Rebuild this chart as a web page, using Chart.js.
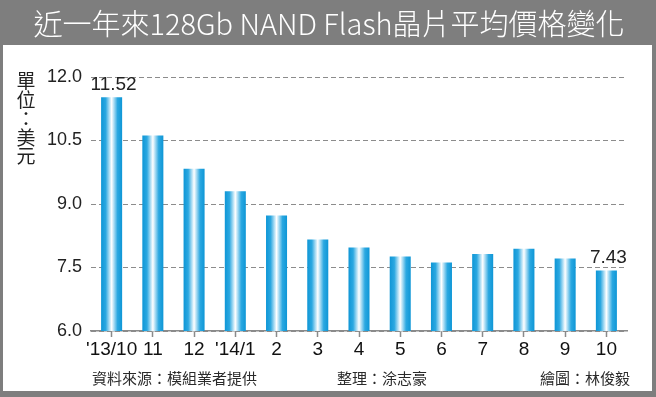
<!DOCTYPE html>
<html>
<head>
<meta charset="utf-8">
<script src="https://cdn.jsdelivr.net/npm/chart.js@4"></script>
<style>
  html, body { margin: 0; padding: 0; background: #fff; }
  #wrap { width: 656px; height: 397px; }
</style>
</head>
<body>
<div id="wrap"><canvas id="priceChart" width="656" height="397"></canvas></div>
<script>
// data
var months = ["'13/10", '11', '12', "'14/1", '2', '3', '4', '5', '6', '7', '8', '9', '10'];
var prices = [11.52, 10.62, 9.83, 9.30, 8.73, 8.16, 7.97, 7.76, 7.62, 7.82, 7.94, 7.71, 7.43];
var priceLabels = ['11.52', '', '', '', '', '', '', '', '', '', '', '', '7.43'];
var yTicks = [6.0, 7.5, 9.0, 10.5, 12.0];

var titleText = '近一年來128Gb NAND Flash晶片平均價格變化';
var unitChars = ['單', '位', '：', '美', '元'];
var footerTexts = ['資料來源：模組業者提供', '整理：涂志豪', '繪圖：林俊毅'];

var BAR_PCT = 0.51;
var CJK = '"Noto Sans CJK TC", "Noto Sans CJK SC", sans-serif';
var NUM = '"Liberation Sans", Arial, sans-serif';

// each bar gets its own horizontal blue-white-blue gradient
function barFill(ctx) {
  var chart = ctx.chart;
  var xs = chart.scales && chart.scales.x;
  if (ctx.dataIndex === undefined || !xs || !xs.width) return '#1a9fdc';
  var cx = xs.getPixelForValue(ctx.dataIndex);
  var half = xs.width / months.length * BAR_PCT / 2;
  var g = chart.ctx.createLinearGradient(cx - half, 0, cx + half, 0);
  g.addColorStop(0, '#0e96d6');
  g.addColorStop(0.22, '#2ba8e1');
  g.addColorStop(0.5, '#ffffff');
  g.addColorStop(0.78, '#2ba8e1');
  g.addColorStop(1, '#0e96d6');
  return g;
}

// frame, title bar, unit label, footer, value labels
var decor = {
  id: 'decor',
  beforeDraw: function (chart) {
    var c = chart.ctx;
    c.save();
    c.fillStyle = '#ffffff';
    c.fillRect(0, 0, 656, 397);
    c.fillStyle = '#7e7e7e';
    c.fillRect(0, 0, 656, 45);
    c.fillRect(0, 0, 3, 397);
    c.fillRect(652, 0, 4, 397);
    c.fillRect(0, 391, 656, 6);
    c.fillStyle = '#ffffff';
    c.font = '300 29px ' + CJK;
    c.textAlign = 'center';
    c.textBaseline = 'middle';
    c.fillText(titleText, 329, 24);
    c.restore();
  },
  afterDraw: function (chart) {
    var c = chart.ctx;
    c.save();
    c.fillStyle = '#222';
    c.font = '19px ' + CJK;
    c.textAlign = 'center';
    c.textBaseline = 'middle';
    unitChars.forEach(function (ch, i) {
      c.fillText(ch, 26, 81 + i * 18.8);
    });

    c.font = '15px ' + CJK;
    c.textAlign = 'left';
    c.fillStyle = '#2a2a2a';
    var fx = [92, 337, 540];
    footerTexts.forEach(function (t, i) {
      c.fillText(t, fx[i], 378);
    });

    var meta = chart.getDatasetMeta(0);
    c.font = '19px ' + NUM;
    c.fillStyle = '#222';
    c.textAlign = 'center';
    c.textBaseline = 'bottom';
    meta.data.forEach(function (bar, i) {
      if (priceLabels[i]) c.fillText(priceLabels[i], bar.x + 2, bar.y - 3);
    });
    c.restore();
  }
};

var priceChart = new Chart(document.getElementById('priceChart'), {
  type: 'bar',
  data: {
    labels: months,
    datasets: [{
      data: prices,
      backgroundColor: barFill,
      borderWidth: 0,
      barPercentage: BAR_PCT,
      categoryPercentage: 1
    }]
  },
  options: {
    responsive: false,
    animation: false,
    layout: { padding: { top: 77, right: 29, left: 0, bottom: 0 } },
    plugins: {
      legend: { display: false },
      tooltip: { enabled: false },
      title: { display: false }
    },
    scales: {
      x: {
        afterFit: function (s) { s.height = 66; },
        grid: {
          display: true,
          drawOnChartArea: false,
          drawTicks: true,
          offset: false,
          tickLength: 6,
          tickColor: '#8a8a8a',
          tickWidth: 1.5
        },
        border: { display: true, color: '#8a8a8a', width: 1.5 },
        ticks: {
          color: '#111',
          font: { family: NUM, size: 19 },
          padding: 1,
          maxRotation: 0,
          autoSkip: false
        }
      },
      y: {
        min: 6,
        max: 12,
        afterFit: function (s) { s.width = 91; },
        afterBuildTicks: function (s) {
          s.ticks = yTicks.map(function (v) { return { value: v }; });
        },
        grid: { color: '#8c8c8c', lineWidth: 1, drawTicks: false },
        border: { display: false, dash: [5, 3] },
        ticks: {
          color: '#222',
          font: { family: NUM, size: 18 },
          padding: 9,
          callback: function (v) { return Number(v).toFixed(1); }
        }
      }
    }
  },
  plugins: [decor]
});
</script>
</body>
</html>
